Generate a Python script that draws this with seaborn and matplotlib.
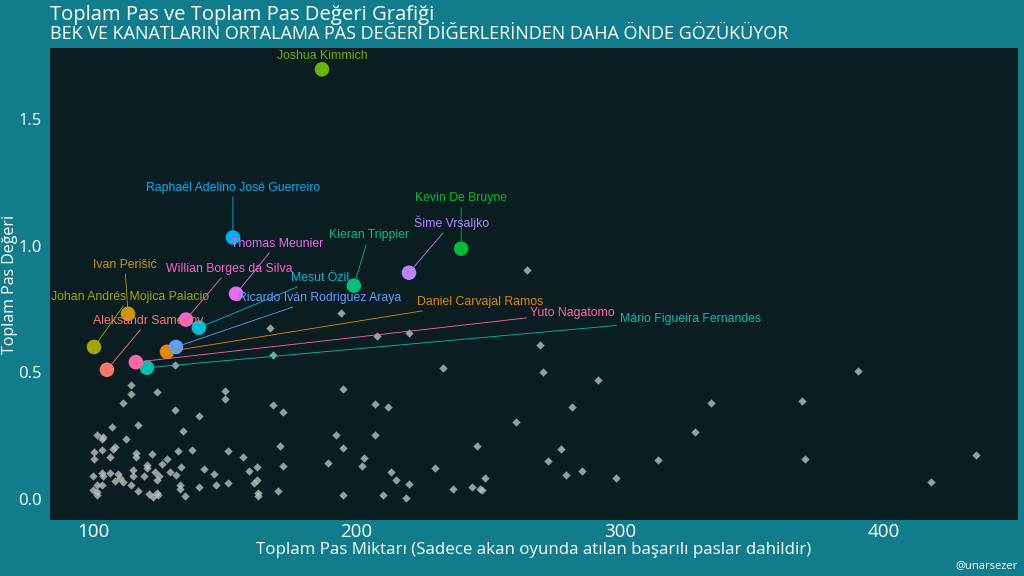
import numpy as np
import pandas as pd
import matplotlib.pyplot as plt
import seaborn as sns

# Diger oyuncular (gri noktalar): toplam pas, toplam pas degeri
other_passes = [314.5, 328.5, 334.4, 369.2, 370.3, 390.1, 418.0, 435.1, 264.7, 194.0,
                207.9, 219.9, 269.6, 270.7, 291.5, 232.8, 195.0, 207.0, 211.9, 281.7,
                260.6, 192.1, 207.0, 195.0, 245.7, 277.6, 189.1, 203.0, 202.0, 229.8,
                272.6, 213.0, 214.9, 219.9, 285.6, 279.6, 298.6, 248.8, 195.0, 209.9,
                218.9, 236.7, 243.7, 246.9, 247.7, 114.4, 114.4, 124.3, 111.4, 150.2,
                150.2, 131.2, 140.2, 168.2, 172.1, 107.3, 117.2, 134.3, 101.4, 103.9,
                103.3, 112.4, 171.0, 100.5, 103.5, 107.7, 108.3, 116.3, 116.3, 122.3,
                132.4, 137.5, 151.2, 100.5, 106.5, 128.2, 126.3, 120.4, 120.4, 157.0,
                162.1, 159.2, 172.1, 142.2, 133.4, 115.3, 123.5, 129.2, 131.5, 146.0,
                100.1, 103.9, 106.5, 109.6, 110.2, 115.3, 119.4, 125.0, 124.4, 151.3,
                162.1, 161.2, 146.6, 111.3, 101.4, 103.3, 114.4, 133.0, 133.0, 140.2,
                100.1, 117.2, 170.1, 162.7, 162.7, 101.4, 121.4, 122.9, 124.8, 134.9,
                131.1, 167.2, 168.2, 108.3, 124.2, 101.4, 103.3]
other_values = [0.154, 0.266, 0.378, 0.387, 0.159, 0.505, 0.066, 0.173, 0.902, 0.734,
                0.643, 0.655, 0.606, 0.503, 0.469, 0.517, 0.434, 0.375, 0.364, 0.364,
                0.303, 0.253, 0.253, 0.200, 0.211, 0.196, 0.143, 0.163, 0.129, 0.123,
                0.150, 0.108, 0.075, 0.059, 0.112, 0.095, 0.084, 0.082, 0.016, 0.016,
                0.004, 0.038, 0.046, 0.038, 0.036, 0.448, 0.415, 0.422, 0.378, 0.428,
                0.394, 0.353, 0.328, 0.369, 0.345, 0.285, 0.291, 0.268, 0.252, 0.246,
                0.236, 0.238, 0.211, 0.187, 0.194, 0.199, 0.204, 0.181, 0.165, 0.177,
                0.191, 0.192, 0.189, 0.157, 0.167, 0.157, 0.138, 0.134, 0.124, 0.165,
                0.125, 0.112, 0.130, 0.117, 0.125, 0.115, 0.108, 0.108, 0.096, 0.099,
                0.091, 0.091, 0.104, 0.099, 0.082, 0.091, 0.091, 0.091, 0.075, 0.064,
                0.075, 0.062, 0.057, 0.068, 0.055, 0.055, 0.054, 0.054, 0.041, 0.046,
                0.036, 0.033, 0.033, 0.025, 0.012, 0.016, 0.020, 0.009, 0.016, 0.012,
                0.530, 0.675, 0.569, 0.071, 0.025, 0.029, 0.101]

# One cikan oyuncular
names = ['Aleksandr Samedov', 'Daniel Carvajal Ramos', 'Ivan Perišić',
         'Johan Andrés Mojica Palacio', 'Joshua Kimmich', 'Kevin De Bruyne',
         'Kieran Trippier', 'Mário Figueira Fernandes', 'Mesut Özil',
         'Raphaël Adelino José Guerreiro', 'Ricardo Iván Rodriguez Araya',
         'Šime Vrsaljko', 'Thomas Meunier', 'Willian Borges da Silva', 'Yuto Nagatomo']
top_passes = [105.3, 128.1, 113.3, 100.4, 186.9, 239.7, 199.0, 120.5, 140.2,
              153.1, 131.5, 219.9, 154.3, 135.3, 116.3]
top_values = [0.510, 0.581, 0.731, 0.600, 1.696, 0.988, 0.842, 0.518, 0.676,
              1.032, 0.600, 0.893, 0.810, 0.708, 0.540]
palette = ['#F8766D', '#E58700', '#C99800', '#A3A500', '#6BB100', '#00BA38',
           '#00BF7D', '#00C0AF', '#00BCD8', '#00B0F6', '#619CFF', '#B983FF',
           '#E76BF3', '#FD61D1', '#FF67A4']

# etiket yerleri (ggrepel benzeri)
label_x = [120.9, 246.9, 112.1, 114.0, 186.9, 239.7, 204.7, 326.6, 186.1,
           153.1, 186.1, 236.2, 169.8, 151.6, 281.8]
label_y = [0.704, 0.779, 0.925, 0.798, 1.747, 1.186, 1.040, 0.711, 0.874,
           1.229, 0.794, 1.091, 1.008, 0.909, 0.735]

others = pd.DataFrame({'pas': other_passes, 'deger': other_values})
top = pd.DataFrame({'oyuncu': names, 'pas': top_passes, 'deger': top_values})

bg = '#107C8C'
panel = '#0A1E22'

sns.set_style('dark')
plt.rcParams['font.family'] = ['Open Sans', 'DejaVu Sans']

fig = plt.figure(figsize=(10.24, 5.76), dpi=100, facecolor=bg)
ax = fig.add_axes([50/1024, 56/576, 968/1024, 472/576])
ax.set_facecolor(panel)
for s in ax.spines.values():
    s.set_visible(False)

sns.scatterplot(data=others, x='pas', y='deger', marker='D', s=18, color='#B8C0C0',
                alpha=0.8, linewidth=0, ax=ax, zorder=2)
sns.scatterplot(data=top, x='pas', y='deger', hue='oyuncu',
                palette=dict(zip(names, palette)), s=110, linewidth=0,
                legend=False, ax=ax, zorder=4)

for i, n in enumerate(names):
    ax.annotate(n, xy=(top_passes[i], top_values[i]), xytext=(label_x[i], label_y[i]),
                ha='center', va='center', fontsize=8.8, color=palette[i],
                family='Liberation Sans', zorder=5,
                arrowprops=dict(arrowstyle='-', color=palette[i], lw=0.6,
                                shrinkA=0, shrinkB=5))

ax.set_xlim(83.7, 451)
ax.set_ylim(-0.083, 1.78)
ax.set_xticks([100, 200, 300, 400])
ax.set_yticks([0.0, 0.5, 1.0, 1.5])
ax.set_yticklabels(['0.0', '0.5', '1.0', '1.5'])
ax.tick_params(colors='white', labelsize=13.5, length=0, pad=2)
ax.tick_params(axis='y', labelsize=12, pad=6)
ax.grid(False)
ax.set_xlabel('Toplam Pas Miktarı (Sadece akan oyunda atılan başarılı paslar dahildir)',
              color='white', fontsize=12.2, labelpad=1)
ax.set_ylabel('Toplam Pas Değeri', color='white', fontsize=11.5, va='center')
ax.yaxis.set_label_coords(-40/968, 0.5)

fig.text(50/1024, 1 - 15/576, 'Toplam Pas ve Toplam Pas Değeri Grafiği',
         color='white', fontsize=14.6, va='center', ha='left')
fig.text(50/1024, 1 - 34/576,
         'BEK VE KANATLARIN ORTALAMA PAS DEĞERİ DİĞERLERİNDEN DAHA ÖNDE GÖZÜKÜYOR',
         color='white', fontsize=13, va='center', ha='left')
fig.text(1018/1024, 1 - 566/576, '@unarsezer', color='white', fontsize=8,
         ha='right', va='center')

fig.savefig('out.png', dpi=100, facecolor=bg)
